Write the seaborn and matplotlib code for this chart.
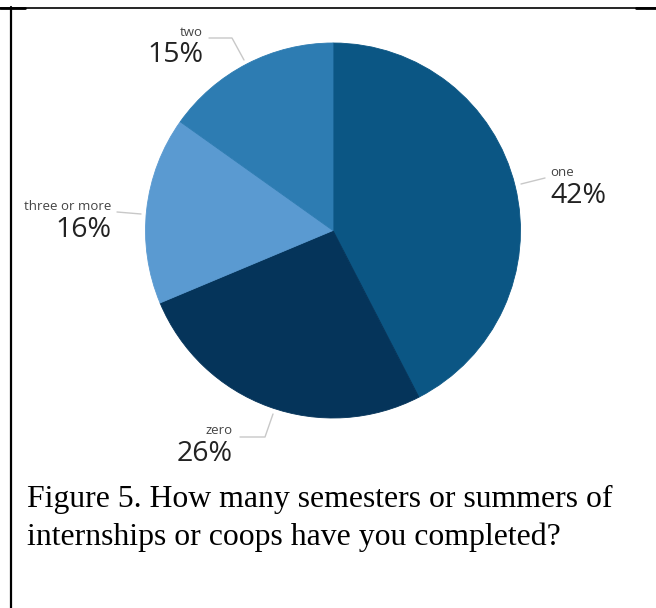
import matplotlib
matplotlib.use("Agg")
import matplotlib.pyplot as plt
import seaborn as sns
from matplotlib.lines import Line2D

# ---- data ----
categories = ["one", "zero", "three or more", "two"]
values = [42, 26, 16, 15]
pct_labels = ["42%", "26%", "16%", "15%"]
caption = ["Figure 5. How many semesters or summers of",
           "internships or coops have you completed?"]

colors = ["#0b5684", "#05345a", "#5a9ad1", "#2d7cb2"]

sns.set_theme(style="white")
plt.rcParams["font.family"] = ["Open Sans", "DejaVu Sans"]

W, H = 656, 608
fig = plt.figure(figsize=(W / 100, H / 100), dpi=100)
fig.patch.set_facecolor("white")


def fx(x):
    return x / W


def fy(y):
    return 1 - y / H


# pie axes: centre (333, 230.5), radius 187.5 px
cx, cy, r = 333, 230.5, 187.5
ax = fig.add_axes([fx(cx - r), fy(cy + r), 2 * r / W, 2 * r / H])
wedges, _ = ax.pie(values, colors=colors, startangle=90, counterclock=False,
                   radius=1.0)
for w, c in zip(wedges, colors):
    w.set_edgecolor(c)
    w.set_linewidth(0.6)
ax.set_xlim(-1, 1)
ax.set_ylim(-1, 1)
ax.set_aspect("equal")
ax.axis("off")

# label layout (pixel positions)
label_layout = {
    "one":           dict(x=550, ys=172, yb=196, ha="left",
                          line=[(521, 184), (545, 178)]),
    "zero":          dict(x=233, ys=430, yb=454, ha="right",
                          line=[(240, 437), (265, 437), (273, 414)]),
    "three or more": dict(x=111, ys=207, yb=230, ha="right",
                          line=[(117, 212), (141, 214)]),
    "two":           dict(x=203, ys=33, yb=55, ha="right",
                          line=[(209, 38), (232, 38), (244, 60)]),
}

for cat, pct in zip(categories, pct_labels):
    lay = label_layout[cat]
    fig.text(fx(lay["x"]), fy(lay["ys"]), cat, ha=lay["ha"], va="center",
             fontsize=9.5, color="#444444")
    fig.text(fx(lay["x"]), fy(lay["yb"]), pct, ha=lay["ha"], va="center",
             fontsize=20.5, color="#222222")
    xs = [fx(p[0]) for p in lay["line"]]
    ys = [fy(p[1]) for p in lay["line"]]
    fig.add_artist(Line2D(xs, ys, color="#c8c8c8", linewidth=1.0))

# caption
fig.text(fx(27), fy(507), caption[0], ha="left", va="baseline",
         fontsize=22.9, family="Liberation Serif", color="black")
fig.text(fx(27), fy(545), caption[1], ha="left", va="baseline",
         fontsize=22.9, family="Liberation Serif", color="black")

# table border lines
fig.add_artist(Line2D([0, 1], [fy(7.5), fy(7.5)], color="black", linewidth=1.2))
fig.add_artist(Line2D([0, fx(25)], [fy(8), fy(8)], color="black", linewidth=2.0))
fig.add_artist(Line2D([fx(636), 1], [fy(8), fy(8)], color="black", linewidth=2.0))
fig.add_artist(Line2D([fx(11), fx(11)], [fy(7), 0], color="black", linewidth=1.6))

fig.savefig("out.png", dpi=100, facecolor="white")
